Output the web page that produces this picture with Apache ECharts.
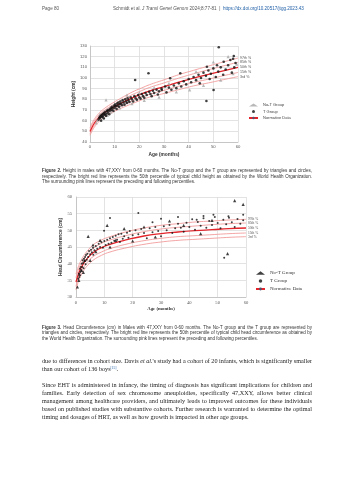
<!DOCTYPE html>
<html>
<head>
<meta charset="utf-8">
<script src="https://cdn.jsdelivr.net/npm/echarts@6/dist/echarts.min.js"></script>
<style>
html, body { margin: 0; padding: 0; background: #fff; }
#page { position: relative; width: 353px; height: 480px; overflow: hidden; }
#chart { position: absolute; left: 0; top: 0; width: 353px; height: 480px; }
.ln { position: absolute; left: 42px; white-space: nowrap; }
.hd { font-family: "Liberation Sans", Arial, sans-serif; font-size: 4.6px; line-height: 6px; color: #555; }
.cp { font-family: "Liberation Sans", Arial, sans-serif; font-size: 4.5px; line-height: 6px; color: #333; }
.bd { font-family: "Liberation Serif", "Times New Roman", serif; font-size: 6.2px; line-height: 8px; color: #222; }
.blue { color: #1f5fa6; }
sup { font-size: 3.6px; line-height: 0; vertical-align: 2.2px; }
</style>
</head>
<body>
<div id="page">
  <div id="chart"></div>

  <div class="ln hd" style="top:6px;left:42px;">Page 80</div>
  <div class="ln hd" style="top:6px;left:113px;">Schmidt et al. <i>J Transl Genet Genom</i> 2024;8:77-81 &nbsp;|&nbsp; <span class="blue">https://dx.doi.org/10.20517/jtgg.2023.43</span></div>

  <div class="ln cp jf" style="top:168px;"><b>Figure 2.</b> Height in males with 47,XXY from 0-60 months. The No-T group and the T group are represented by triangles and circles,</div>
  <div class="ln cp jf" style="top:173.5px;">respectively. The bright red line represents the 50th percentile of typical child height as obtained by the World Health Organization.</div>
  <div class="ln cp" style="top:179px;">The surrounding pink lines represent the preceding and following percentiles.</div>

  <div class="ln cp jf" style="top:324.5px;"><b>Figure 3.</b> Head Circumference (cm) in Males with 47,XXY from 0-60 months. The No-T group and the T group are represented by</div>
  <div class="ln cp jf" style="top:330px;">triangles and circles, respectively. The bright red line represents the 50th percentile of typical child head circumference as obtained by</div>
  <div class="ln cp" style="top:335.5px;">the World Health Organization. The surrounding pink lines represent the preceding and following percentiles.</div>

  <div class="ln bd jf" style="top:357px;">due to differences in cohort size. Davis <i>et al.</i>'s study had a cohort of 20 infants, which is significantly smaller</div>
  <div class="ln bd" style="top:365px;">than our cohort of 136 boys<sup class="blue">[15]</sup>.</div>

  <div class="ln bd jf" style="top:381px;">Since EHT is administered in infancy, the timing of diagnosis has significant implications for children and</div>
  <div class="ln bd jf" style="top:389px;">families. Early detection of sex chromosome aneuploidies, specifically 47,XXY, allows better clinical</div>
  <div class="ln bd jf" style="top:397px;">management among healthcare providers, and ultimately leads to improved outcomes for these individuals</div>
  <div class="ln bd jf" style="top:405px;">based on published studies with substantive cohorts. Further research is warranted to determine the optimal</div>
  <div class="ln bd" style="top:413px;">timing and dosages of HRT, as well as how growth is impacted in other age groups.</div>
</div>

<script>
// stretch/squeeze justified lines to the text block width
(function () {
  var lines = document.querySelectorAll('.jf');
  for (var i = 0; i < lines.length; i++) {
    var el = lines[i];
    var spaces = (el.textContent.match(/ /g) || []).length;
    var natural = el.getBoundingClientRect().width;
    if (spaces > 0) el.style.wordSpacing = ((270 - natural) / spaces) + 'px';
  }
})();

// WHO reference percentiles, boys 0-60 months
var pctNames = ['3rd %', '15th %', '50th %', '85th %', '97th %'];

var htAges = [0, 1, 2, 3, 4, 6, 9, 12, 15, 18, 21, 24, 30, 36, 42, 48, 54, 60];
var htP3  = [46.3, 51.0, 54.6, 57.5, 60.0, 63.5, 67.7, 71.0, 74.0, 76.8, 79.5, 82.0, 85.5, 89.1, 92.6, 95.4, 98.4, 101.3];
var htP15 = [47.9, 52.7, 56.3, 59.3, 61.7, 65.3, 69.6, 73.1, 76.3, 79.3, 82.0, 84.6, 88.4, 92.3, 95.8, 98.9, 102.1, 105.2];
var htP50 = [49.9, 54.7, 58.4, 61.4, 63.9, 67.6, 72.0, 75.7, 79.1, 82.3, 85.1, 87.8, 91.9, 96.1, 99.9, 103.3, 106.7, 110.0];
var htP85 = [51.9, 56.7, 60.5, 63.5, 66.1, 69.9, 74.4, 78.3, 81.9, 85.3, 88.2, 91.0, 95.4, 99.9, 104.0, 107.7, 111.3, 114.8];
var htP97 = [53.5, 58.4, 62.2, 65.3, 67.8, 71.7, 76.3, 80.4, 84.2, 87.8, 90.7, 93.6, 98.3, 103.1, 107.2, 111.2, 115.0, 118.7];

var hcAges = [0, 1, 2, 3, 4, 6, 9, 12, 18, 24, 30, 36, 42, 48, 54, 60];
var hcP3  = [32.1, 35.1, 36.9, 38.3, 39.4, 41.0, 42.5, 43.5, 44.8, 45.8, 46.5, 47.0, 47.3, 47.6, 47.9, 48.1];
var hcP15 = [33.2, 36.1, 37.9, 39.3, 40.4, 42.1, 43.5, 44.5, 45.9, 46.9, 47.6, 48.1, 48.4, 48.7, 49.0, 49.2];
var hcP50 = [34.5, 37.3, 39.1, 40.5, 41.6, 43.3, 44.8, 45.8, 47.2, 48.3, 49.0, 49.5, 49.9, 50.2, 50.5, 50.7];
var hcP85 = [35.8, 38.5, 40.3, 41.7, 42.8, 44.5, 46.1, 47.1, 48.5, 49.6, 50.4, 50.9, 51.3, 51.7, 52.0, 52.2];
var hcP97 = [36.9, 39.5, 41.3, 42.7, 43.8, 45.6, 47.1, 48.1, 49.6, 50.7, 51.5, 52.0, 52.5, 52.8, 53.1, 53.3];

// patients: [age (months), height (cm)]
var htTGroup = [
  [3.5,61],[3.8,63],[4,62.5],[4.2,64],[4.5,60],[4.6,65],[4.8,63.5],[5,66],[5.2,64],[5.5,67],[5.6,62],
  [5.8,65.5],[6,68],[6.2,66],[6.5,64.5],[6.8,69],[7,67],[7.2,70],[7.5,68.5],[7.8,66],[8,71],[8.2,69.5],
  [8.5,72],[8.8,70],[9,73],[9.2,71.5],[9.5,69],[9.8,74],[10,72],[10.2,75],[10.5,73.5],[10.8,71],[11,76],
  [11.2,74],[11.5,77],[11.8,73],[12,75.5],[12.3,78],[12.6,76],[13,74.5],[13.3,79],[13.6,77],[14,75],
  [14.3,80],[14.6,78],[15,76.5],[15.3,81],[15.6,79],[16,77.5],[16.5,82],[17,80],[17.5,78],[18,83],
  [18.5,81],[19,79.5],[19.5,84],[20,82],[20.5,80.5],[21,85],[21.5,83],[22,81.5],[22.5,86],[23,84],
  [24,87],[24.5,85],[25,83],[25.5,88],[26,86],[27,89],[27.5,84.5],[28,87.5],[29,90],[29.1,88.8],[30.5,92],
  [31,86.5],[32,91],[32.5,99.7],[33,89],[34,93],[35,90.5],[36,95],[36.6,104.4],[37,92],[38,97],[39,94],
  [40,99],[41,96],[42,101],[43,98],[44,103],[44.5,95],[45,100],[46,105],[47,102],[47.4,110.6],[48,107],
  [48.5,99],[49,104],[50,109],[51,101],[51.5,112],[52,106],[53,110],[54,103],[54.2,115.3],[55,108],
  [56,112],[56.9,116.9],[57.5,105],[58,118],[58.3,120.6],[58.5,110],[59,114],[52.2,128.8],[47.2,78.4],
  [50.1,88.8],[23.7,104.4],[18.3,98.1]
];
var htNoTGroup = [
  [2.5,58],[3,60.5],[4,66],[5.5,63],[6.5,79.4],[7,65],[8.5,68],[10,76],[12,72],[13,80],[15,84],[17,76],
  [20,86],[22,79],[26,91],[28,82],[32,95],[35,87],[40.4,88.8],[43,106],[46,93],[50,115],[53,98],
  [56,120],[58,104],[59.5,113]
];

// patients: [age (months), head circumference (cm)]
var hcTGroup = [
  [0.8,35.5],[1,37],[1.2,36],[1.4,38.5],[1.5,37.5],[1.7,39],[1.8,38],[2,40],[2.2,39],[2.3,41],[2.5,40.2],
  [2.7,38.6],[2.8,41.5],[3,40.8],[3.2,42],[3.4,39.8],[3.5,42.6],[3.8,41.2],[4,43],[4.3,42],[4.6,43.8],
  [5,42.8],[5.3,44.2],[5.6,43.4],[6,44.8],[6.1,42.7],[6.5,44],[7,45.3],[7.5,44.5],[8,46],[8.5,45],
  [9,46.4],[9.5,44.8],[9.9,49.9],[10,46.8],[10.5,45.6],[11,47.2],[11.5,46],[12,47.6],[12,53.7],[12.5,46.3],
  [13,48],[13.5,46.9],[14,48.4],[14.5,47.2],[15,48.8],[15.5,46.5],[16,49],[16.5,47.5],[17,48.2],[18,49.3],
  [18.5,47.8],[19,49.8],[20,48.5],[21,50],[22,48.8],[22,55.2],[23,50.4],[24,49.2],[25,47.6],[26,50.6],
  [27,49.4],[27,52.4],[28,51],[29,49.8],[30,48.2],[30,53.5],[31,51.2],[32,50],[33,51.6],[34,49.2],
  [35,50.6],[36,52],[36,54],[37,50.8],[38,49.6],[39,52.3],[40,51],[41,53.3],[42,50.2],[42.6,53.2],
  [43,52.5],[44,51.4],[45,53.6],[45,54.3],[46,50.8],[47,52.8],[48,51.6],[48.5,54.7],[49,54],[50,52.2],
  [51,50.6],[52,53.2],[53,51.8],[53.8,54.2],[54,53.8],[55,52.4],[56,51],[57,53.4],[58,52],[59,53],
  [59,54.7],[52.3,41.8]
];
var hcNoTGroup = [
  [0.5,33],[1,35],[1.3,36.8],[2,38],[2.6,37.4],[3.1,41],[4.3,48.2],[5,41],[6,45.6],[7,43.6],[8.5,47],
  [11,51.5],[12,45],[14,47],[17,50.5],[20,46.8],[24,51],[28,48],[33,52.8],[38,51.5],[44,49],[48,53],
  [53.5,43],[56,58.9],[59,57.8]
];

var myChart = echarts.init(document.getElementById('chart'));

function zip(xs, ys) {
  var res = [];
  for (var i = 0; i < xs.length; i++) res.push([xs[i], ys[i]]);
  return res;
}

function pctLines(idx, xs, lists, labelFont) {
  var out = [];
  for (var i = 0; i < lists.length; i++) {
    var mid = i === 2;
    out.push({
      name: mid ? 'Normative Data' : pctNames[i],
      type: 'line',
      xAxisIndex: idx, yAxisIndex: idx,
      data: zip(xs, lists[i]),
      smooth: true,
      symbol: 'none',
      z: 1,
      lineStyle: { color: mid ? '#e3242b' : '#f29b9b', width: mid ? 1.3 : 0.9 },
      endLabel: {
        show: true,
        formatter: pctNames[i],
        distance: 2,
        fontSize: 3.6,
        fontFamily: labelFont,
        color: '#555'
      }
    });
  }
  return out;
}

function xAx(idx, fam, size, gap) {
  return {
    gridIndex: idx, type: 'value', min: 0, max: 60, interval: 10,
    name: 'Age (months)', nameLocation: 'middle', nameGap: gap,
    nameTextStyle: { fontSize: 4.8, fontWeight: 'bold', color: '#333', fontFamily: fam },
    axisLine: { show: true, lineStyle: { color: '#bfbfbf', width: 0.8 } },
    axisTick: { show: false },
    axisLabel: { fontSize: size, color: '#595959', margin: 3, fontFamily: fam },
    splitLine: { lineStyle: { color: '#dcdcdc', width: 0.8 } }
  };
}

function yAx(idx, name, min, max, step, fam, size, gap, margin) {
  return {
    gridIndex: idx, type: 'value', min: min, max: max, interval: step,
    name: name, nameLocation: 'middle', nameGap: gap,
    nameTextStyle: { fontSize: 4.8, fontWeight: 'bold', color: '#333', fontFamily: 'Liberation Sans' },
    axisLine: { show: true, lineStyle: { color: '#bfbfbf', width: 0.8 } },
    axisTick: { show: false },
    axisLabel: { fontSize: size, color: '#595959', margin: margin, fontFamily: fam },
    splitLine: { lineStyle: { color: '#dcdcdc', width: 0.8 } }
  };
}

var option = {
  animation: false,
  grid: [
    { left: 90, top: 46, width: 148, height: 96 },
    { left: 76, top: 197, width: 170, height: 100 }
  ],
  xAxis: [ xAx(0, 'Liberation Sans', 4.2, 10), xAx(1, 'Liberation Serif', 4.6, 9) ],
  yAxis: [
    yAx(0, 'Height (cm)', 40, 130, 10, 'Liberation Sans', 4.2, 13, 3),
    yAx(1, 'Head Circumference (cm)', 30, 60, 5, 'Liberation Serif', 4.6, 10, 4)
  ],
  legend: [
    {
      left: 243, top: 98, orient: 'vertical', itemGap: 2.5,
      itemWidth: 9, itemHeight: 3,
      textStyle: { fontSize: 4, color: '#444', fontFamily: 'Liberation Sans' },
      data: [
        { name: 'No-T Group', icon: 'triangle', itemStyle: { color: '#a6a6a6' } },
        { name: 'T Group', icon: 'circle', itemStyle: { color: '#111' } },
        { name: 'Normative Data' }
      ]
    },
    {
      left: 250, top: 265.5, orient: 'vertical', itemGap: 3,
      itemWidth: 9, itemHeight: 3.5,
      textStyle: { fontSize: 5, color: '#333', fontFamily: 'Liberation Serif' },
      data: [
        { name: 'No-T Group', icon: 'triangle', itemStyle: { color: '#111' } },
        { name: 'T Group', icon: 'circle', itemStyle: { color: '#111' } },
        { name: 'Normative Data' }
      ]
    }
  ],
  series: [].concat(
    pctLines(0, htAges, [htP3, htP15, htP50, htP85, htP97], 'Liberation Sans'),
    pctLines(1, hcAges, [hcP3, hcP15, hcP50, hcP85, hcP97], 'Liberation Serif'),
    [
      { name: 'No-T Group', type: 'scatter', xAxisIndex: 0, yAxisIndex: 0, z: 3,
        symbol: 'triangle', symbolSize: 3.2, itemStyle: { color: '#a6a6a6' }, data: htNoTGroup },
      { name: 'T Group', type: 'scatter', xAxisIndex: 0, yAxisIndex: 0, z: 3,
        symbol: 'circle', symbolSize: 2.6, itemStyle: { color: '#111' }, data: htTGroup },
      { name: 'No-T Group', type: 'scatter', xAxisIndex: 1, yAxisIndex: 1, z: 3,
        symbol: 'triangle', symbolSize: 3.2, itemStyle: { color: '#111' }, data: hcNoTGroup },
      { name: 'T Group', type: 'scatter', xAxisIndex: 1, yAxisIndex: 1, z: 3,
        symbol: 'circle', symbolSize: 2, itemStyle: { color: '#111' }, data: hcTGroup }
    ]
  )
};

myChart.setOption(option);
window.addEventListener('resize', function () {
  myChart.resize();
});
</script>
</body>
</html>
